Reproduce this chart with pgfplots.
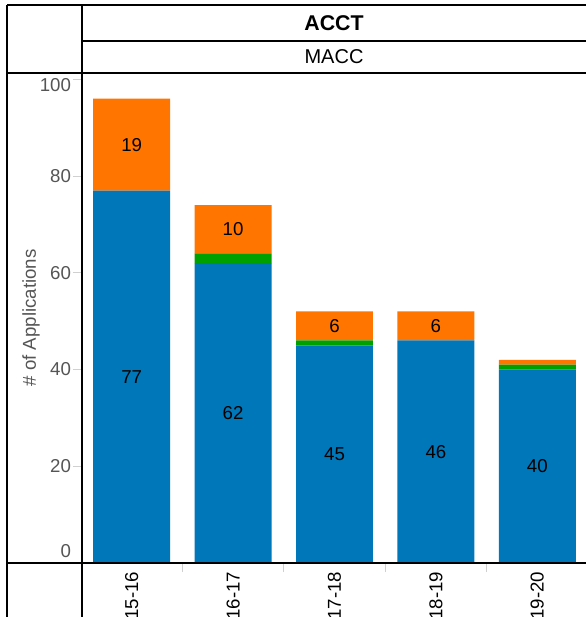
\documentclass[border=0pt]{standalone}
\usepackage{fontspec}
\setmainfont{Liberation Sans}
\usepackage{pgfplots}
\pgfplotsset{compat=1.18}
\definecolor{cblue}{HTML}{0077B8}
\definecolor{cgreen}{HTML}{00A000}
\definecolor{corange}{HTML}{FF7500}
\definecolor{tickgray}{HTML}{555555}
\definecolor{tickline}{HTML}{D0D0D0}

\pgfplotstableread{
x blue green orange
0 77 0 19
1 62 2 10
2 45 1 6
3 46 0 6
4 40 1 1
}\datatable

\pgfplotstableread{
x y lab
0 38.5 77
1 31 62
2 22.5 45
3 23 46
4 20 40
0 86.5 19
1 69 10
2 49 6
3 49 6
}\labeltable

\pgfplotsset{
  commonaxis/.style={
    at={(60.75pt,-422.25pt)}, anchor=south west,
    scale only axis, width=380.25pt, height=367.5pt,
    xmin=-0.5, xmax=4.5, ymin=0, ymax=101.3,
  }
}

\begin{document}
\begin{tikzpicture}[x=0.75pt,y=-0.75pt]
\useasboundingbox (0,0) rectangle (586,617);
\begin{axis}[
  commonaxis,
  ybar stacked, bar width=0.759,
  axis line style={draw=none},
  tick align=outside,
  tick pos=left,
  major tick length=6pt,
  minor tick length=7pt,
  ytick={0,20,40,60,80,100},
  yticklabels={\raisebox{9pt}[\height][\depth]{0},20,40,60,80,\raisebox{-4pt}[\height][\depth]{100}},
  y tick style={tickline, line width=0.75pt},
  yticklabel style={font=\fontsize{14}{16}\selectfont, text=tickgray, xshift=2pt},
  xtick={0,1,2,3,4},
  xticklabels={15-16,16-17,17-18,18-19,19-20},
  x tick style={draw=none},
  minor xtick={0.5,1.5,2.5,3.5},
  minor x tick style={tickline, line width=0.75pt, draw=tickline},
  xticklabel style={rotate=90, anchor=east, font=\fontsize{14}{16}\selectfont, text=black, xshift=3pt},
  ylabel={\# of Applications},
  ylabel style={at={(axis description cs:-0.0986,0.5)}, anchor=center, font=\fontsize{14}{16}\selectfont, text=tickgray},
  /pgf/number format/assume math mode=true,
]
\addplot[fill=cblue, draw=none] table[x=x, y=blue] {\datatable};
\addplot[fill=cgreen, draw=none] table[x=x, y=green] {\datatable};
\addplot[fill=corange, draw=none] table[x=x, y=orange] {\datatable};
\end{axis}
\begin{axis}[
  commonaxis, hide axis,
]
\addplot[draw=none, mark=none, nodes near coords, point meta=explicit symbolic,
  nodes near coords align=center,
  every node near coord/.append style={font=\fontsize{14}{16}\selectfont, text=black}]
  table[x=x, y=y, meta=lab] {\labeltable};
\end{axis}
% frame
\draw[black, line width=1.1pt] (7,5) -- (586,5);
\draw[black, line width=1.1pt] (7,5) -- (7,617);
\draw[black, line width=0.8pt] (82,41) -- (586,41);
\draw[black, line width=1.1pt] (7,73) -- (586,73);
\draw[black, line width=1.1pt] (7,563) -- (586,563);
\draw[black, line width=2.2pt] (82,5) -- (82,617);
\node[font=\fontsize{16}{18}\selectfont\bfseries] at (334,23) {ACCT};
\node[font=\fontsize{15}{18}\selectfont] at (334,57) {MACC};
\end{tikzpicture}
\end{document}
